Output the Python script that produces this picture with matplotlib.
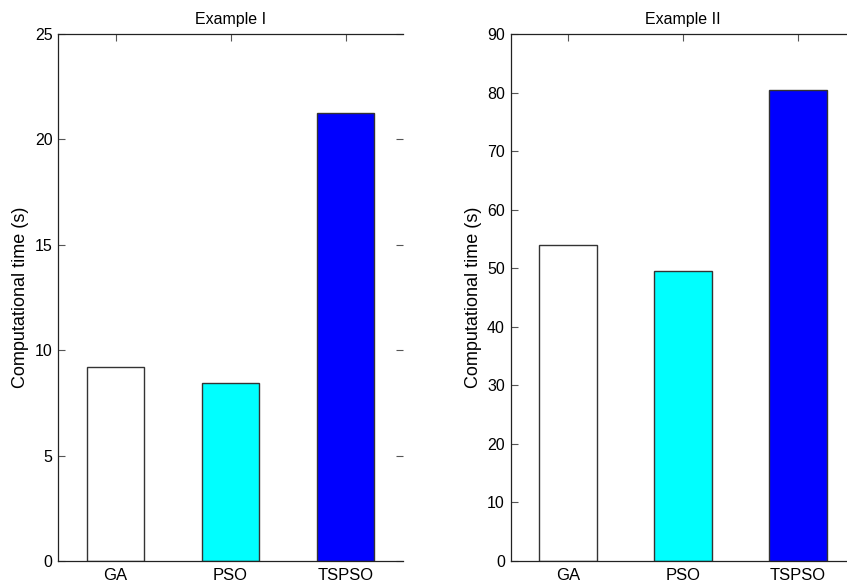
import matplotlib
matplotlib.use("Agg")
import matplotlib.pyplot as plt

categories = ["GA", "PSO", "TSPSO"]
example1_times = [9.2, 8.45, 21.27]
example2_times = [53.9, 49.6, 80.5]
bar_colors = ["#FFFFFF", "#00FFFF", "#0000FF"]
titles = ["Example I", "Example II"]
ylims = [25, 90]
ytick_sets = [[0, 5, 10, 15, 20, 25], [0, 10, 20, 30, 40, 50, 60, 70, 80, 90]]

plt.rcParams['font.family'] = ['Liberation Sans', 'DejaVu Sans']

W, H = 847, 588
fig = plt.figure(figsize=(W / 100, H / 100), dpi=100)

def frac(x0, x1, ytop, ybot):
    return [x0 / W, (H - ybot) / H, (x1 - x0) / W, (ybot - ytop) / H]

positions = [frac(58, 403, 34, 561), frac(510.5, 855.5, 34, 561)]
datasets = [example1_times, example2_times]

for pos, data, title, ymax, yt in zip(positions, datasets, titles, ylims, ytick_sets):
    ax = fig.add_axes(pos)
    x = list(range(1, len(categories) + 1))
    ax.bar(x, data, width=0.5, color=bar_colors, edgecolor="#333333", linewidth=1.0, zorder=2)
    ax.set_xlim(0.5, 3.5)
    ax.set_ylim(0, ymax)
    ax.set_xticks(x)
    ax.set_xticklabels(categories, fontsize=12)
    ax.set_yticks(yt)
    ax.tick_params(axis='y', labelsize=11.5, direction='in', length=5, width=0.8,
                   right=True, colors='#555555', labelcolor='black', pad=4)
    ax.tick_params(axis='x', direction='in', length=5, width=0.8, top=True,
                   colors='#555555', labelcolor='black', pad=5)
    ax.spines['right'].set_visible(False)
    for s in ['left', 'bottom', 'top']:
        ax.spines[s].set_color('#222222')
        ax.spines[s].set_linewidth(0.9)
    ax.set_title(title, fontsize=11.5, pad=7)
    ax.set_ylabel("Computational time (s)", fontsize=13, labelpad=4)

fig.savefig("out.png", dpi=100)
